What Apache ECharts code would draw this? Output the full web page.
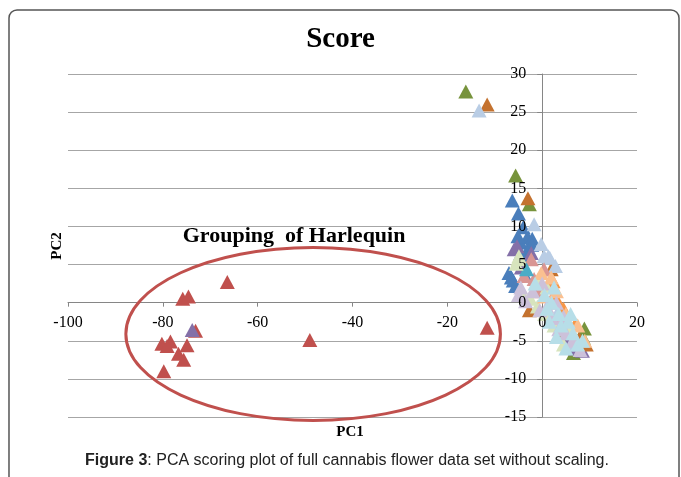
<!DOCTYPE html>
<html><head><meta charset="utf-8">
<script src="https://cdn.jsdelivr.net/npm/echarts@6/dist/echarts.min.js"></script>
<style>html,body{margin:0;padding:0;background:#fff}#c{width:681px;height:477px}</style>
</head><body><div id="c"></div>
<script>
// ---- data (PC1, PC2) ----
const xRange = [-100, 20], xStep = 20;
const yRange = [-15, 30], yStep = 5;

const blueSet = [[-6.3,13.4],[-5.0,11.7],[-4.0,9.9],[-3.1,8.6],[-4.6,7.9],[-2.1,8.4],[-5.1,8.7],[-3.0,7.0],[-2.2,7.6],[-6.1,2.9],[-7.0,3.9],[-6.5,3.3],[-3.6,3.6],[-2.8,6.0],[-4.5,6.5],[-5.6,2.2]];
const harlequin = [[-66.4,2.7],[-75.8,0.5],[-74.6,0.8],[-73.1,-3.7],[-80.2,-5.4],[-78.4,-5.1],[-79.1,-5.7],[-74.9,-5.6],[-76.7,-6.7],[-75.6,-7.5],[-79.8,-9.0],[-49.0,-4.9],[-11.6,-3.3]];
const oliveSet = [[-16.1,27.7],[-5.6,16.7],[-2.7,12.9],[8.9,-3.4],[8.7,-4.6],[6.6,-6.6],[4.0,-4.0]];
const purpleSet = [[-73.8,-3.6],[-5.9,7.0],[-2.3,6.5],[-4.4,4.6],[-5.3,7.4],[-1.2,2.2],[3.0,-2.0],[8.5,-6.3],[7.0,-6.0],[5.5,-4.8]];
const burntSet = [[-11.6,26.0],[-3.0,13.7],[1.9,4.4],[-2.7,-1.0],[7.8,-4.7],[9.3,-5.5]];
const steelSet = [[-13.3,25.2],[-1.7,10.3],[-0.2,7.7],[1.3,6.1],[0.4,6.1],[1.6,5.9],[2.8,4.8],[3.5,-1.0],[6.0,-5.5]];
const salmonSet = [[-2.3,5.7],[-3.8,3.5],[-1.7,3.1],[0.4,4.4],[-0.5,1.5],[2.0,0.5],[4.0,-2.5]];
const tealSet = [[-3.3,4.4]];
const orangeSet = [[3.0,0.5],[4.5,-0.8],[7.0,-2.8],[2.3,2.8]];
const lightGreenSet = [[-5.1,5.7],[-5.5,5.1],[-4.9,6.1],[-0.8,3.1],[-4.0,1.0],[-1.0,-0.5],[0.5,-1.5],[2.5,-3.0],[4.5,-5.5],[6.0,-3.5],[1.0,2.0],[-2.5,0.5]];
const peachSet = [[-0.2,3.9],[1.9,3.3],[3.0,1.5],[0.5,0.8],[5.0,-1.5],[7.5,-3.0],[9.0,-5.0]];
const lightPurpleSet = [[-5.0,1.0],[-3.5,0.2],[-2.0,1.5],[-0.5,-1.0],[1.0,-0.5],[2.0,-2.0],[3.5,-3.5],[5.0,-4.0],[6.5,-5.0],[8.0,-6.2],[0.0,2.5],[3.0,0.0],[4.5,-1.8],[-4.5,2.0]];
const lightAquaSet = [[-1.5,2.5],[0.5,1.0],[2.0,0.0],[3.5,-1.5],[1.5,-2.5],[4.0,-3.0],[5.5,-2.5],[6.5,-4.0],[7.5,-5.5],[5.0,-6.0],[3.0,-4.5],[2.5,2.0],[6.0,-1.5],[8.5,-5.0],[1.0,-0.8]];

// annotation ellipse (data units)
const ellipseCenter = [-48.3, -4.1], ellipseRadii = [39.5, 11.35];
const groupLabelAt = [-75.8, 8.75];

const seriesList = [
  [blueSet, '#4a7ebb'], [harlequin, '#c0504d'], [oliveSet, '#77933c'], [purpleSet, '#8470a8'],
  [burntSet, '#c4722f'], [steelSet, '#b9cde5'], [salmonSet, '#d99694'], [tealSet, '#4bacc6'],
  [orangeSet, '#f79646'], [lightGreenSet, '#d7e4bd'], [peachSet, '#fac090'],
  [lightPurpleSet, '#ccc1da'], [lightAquaSet, '#b7dee8']
];

const W = 681, H = 477;
const G = {left: 68, right: 44, top: 74, bottom: 60};
const plotW = W - G.left - G.right, plotH = H - G.top - G.bottom;
// shift axes so they cross at the origin (Excel style)
const yAxisShift = plotW * (0 - xRange[0]) / (xRange[1] - xRange[0]);
const xAxisShift = plotH * (0 - yRange[0]) / (yRange[1] - yRange[0]);

const chart = echarts.init(document.getElementById('c'), null, {renderer: 'canvas'});
const serif = '"Liberation Serif","Times New Roman",serif';
const labelStyle = {fontFamily: serif, fontSize: 16, color: '#000'};
const xBase = {type: 'value', min: xRange[0], max: xRange[1], interval: xStep, position: 'bottom', offset: -xAxisShift};
const yBase = {type: 'value', min: yRange[0], max: yRange[1], interval: yStep, position: 'left', offset: -yAxisShift};
chart.setOption({
  animation: false,
  title: {text: 'Score', left: 'center', top: 20, textStyle: {fontFamily: serif, fontWeight: 'bold', fontSize: 29, color: '#000'}},
  grid: G,
  xAxis: [
    Object.assign({}, xBase, {z: 0,
      axisLine: {onZero: false, lineStyle: {color: '#868686'}},
      axisTick: {show: true, length: 4, lineStyle: {color: '#868686'}},
      axisLabel: {show: false}, splitLine: {show: false}}),
    Object.assign({}, xBase, {z: 20,
      axisLine: {show: false, onZero: false}, axisTick: {show: false},
      axisLabel: Object.assign({margin: 12}, labelStyle), splitLine: {show: false}})
  ],
  yAxis: [
    Object.assign({}, yBase, {z: 0,
      axisLine: {onZero: false, lineStyle: {color: '#868686'}},
      axisTick: {show: true, length: 5, lineStyle: {color: '#868686'}},
      axisLabel: {show: false},
      splitLine: {show: true, lineStyle: {color: '#a6a6a6', width: 1.2}}}),
    Object.assign({}, yBase, {z: 20,
      axisLine: {show: false, onZero: false}, axisTick: {show: false},
      axisLabel: Object.assign({margin: 16}, labelStyle), splitLine: {show: false}})
  ],
  series: seriesList.map(([d, c]) => ({type: 'scatter', xAxisIndex: 0, yAxisIndex: 0, data: d, symbol: 'triangle', symbolSize: [15, 14],
    itemStyle: {color: c, opacity: 1}}))
});

const cpx = chart.convertToPixel({gridIndex: 0}, ellipseCenter);
const edge = chart.convertToPixel({gridIndex: 0}, [ellipseCenter[0] + ellipseRadii[0], ellipseCenter[1] + ellipseRadii[1]]);
const lab = chart.convertToPixel({gridIndex: 0}, groupLabelAt);
chart.setOption({
  graphic: [
    {type: 'rect', shape: {x: 9, y: 10, width: 670, height: 500, r: 8}, style: {fill: 'none', stroke: '#555', lineWidth: 1.5}, z: 0},
    {type: 'ellipse', shape: {cx: cpx[0], cy: cpx[1], rx: Math.abs(edge[0] - cpx[0]), ry: Math.abs(edge[1] - cpx[1])},
      style: {fill: 'none', stroke: '#c0504d', lineWidth: 3}, z: 10},
    {type: 'text', x: lab[0], y: lab[1], style: {text: 'Grouping  of Harlequin', font: 'bold 22px ' + serif, fill: '#000', textVerticalAlign: 'middle'}, z: 11},
    {type: 'text', x: 350, y: 432, style: {text: 'PC1', font: 'bold 15px ' + serif, fill: '#000', textAlign: 'center', textVerticalAlign: 'middle'}, z: 11},
    {type: 'text', x: 57, y: 246, rotation: Math.PI / 2, style: {text: 'PC2', font: 'bold 15px ' + serif, fill: '#000', textAlign: 'center', textVerticalAlign: 'middle'}, z: 11},
    {type: 'text', x: 347, y: 461, style: {
      text: '{b|Figure 3}: PCA scoring plot of full cannabis flower data set without scaling.',
      rich: {b: {fontWeight: 'bold', fontFamily: '"Liberation Sans",Arial,sans-serif', fontSize: 16, fill: '#222'}},
      font: '16px "Liberation Sans",Arial,sans-serif', fill: '#222', textAlign: 'center', textVerticalAlign: 'middle'}, z: 11}
  ]
});
</script></body></html>
